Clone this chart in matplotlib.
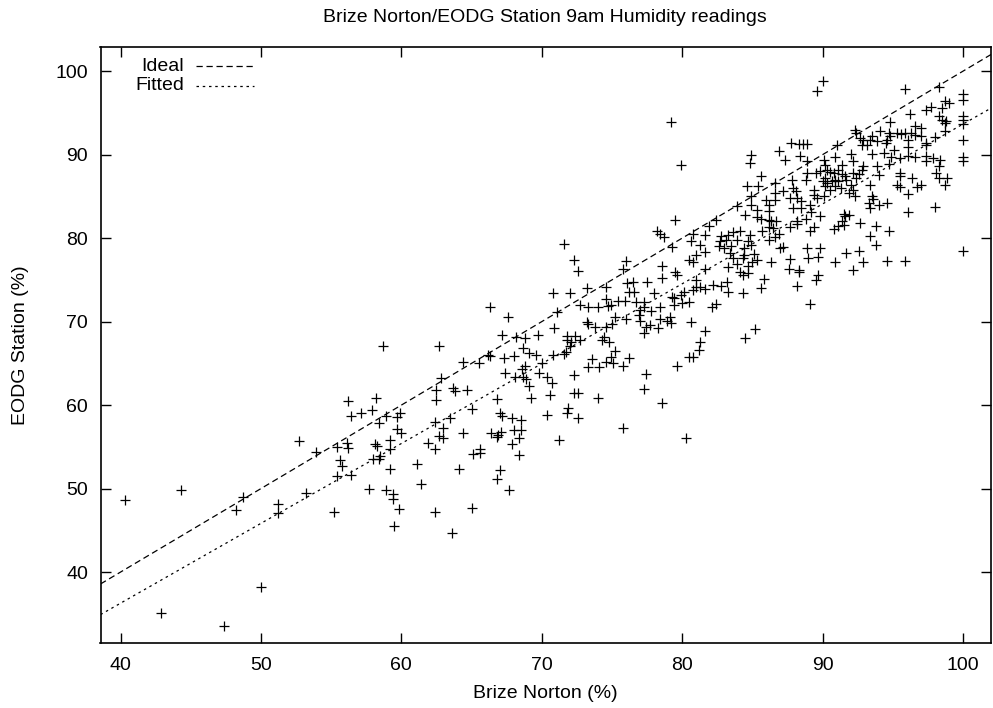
import numpy as np
import matplotlib
matplotlib.use("Agg")
import matplotlib.pyplot as plt

plt.rcParams['font.family'] = ['Liberation Sans', 'DejaVu Sans']

TITLE = "Brize Norton/EODG Station 9am Humidity readings"
XLABEL = "Brize Norton (%)"
YLABEL = "EODG Station (%)"
X_TICKS = [40, 50, 60, 70, 80, 90, 100]
Y_TICKS = [40, 50, 60, 70, 80, 90, 100]
X_LIM = (38.57, 102.0)
Y_LIM = (31.5, 102.9)
FIT_SLOPE = 0.9565
FIT_INTERCEPT = -1.99

# (Brize Norton %, EODG Station %) readings, grouped by region of the plot
low_readings = [
    (40.3, 48.6), (44.3, 49.8), (48.7, 49.0), (48.2, 47.4), (51.2, 48.2), (51.2, 47.1),
    (52.7, 55.7), (53.9, 54.4), (53.2, 49.5), (42.9, 35.1), (47.4, 33.5), (50.0, 38.2),
]

lowmid_readings = [
    (66.3, 71.7), (58.7, 67.1), (62.7, 67.1), (64.4, 65.2), (65.5, 65.1), (66.3, 65.9),
    (62.8, 63.3), (62.5, 61.8), (62.5, 60.6), (63.7, 62.0), (63.8, 61.7), (64.7, 61.8),
    (66.8, 60.7), (65.0, 59.5), (67.0, 59.0), (56.2, 60.5), (58.2, 60.8), (56.4, 58.7),
    (57.1, 59.0), (57.9, 59.4), (58.9, 58.7), (59.7, 58.6), (59.9, 59.0), (58.4, 57.8),
    (59.7, 57.1), (60.0, 56.6), (55.4, 55.0), (56.1, 55.4), (56.2, 54.9), (55.6, 53.4),
    (55.8, 52.7), (55.4, 51.5), (56.4, 51.6), (55.2, 47.2), (57.7, 50.0), (58.9, 49.8),
    (59.4, 49.4), (59.4, 48.7), (59.8, 47.5), (59.5, 45.5), (58.1, 55.3), (58.3, 55.1),
    (59.2, 55.8), (59.2, 54.7), (58.0, 53.5), (58.5, 53.9), (58.4, 53.6), (59.2, 52.3),
    (61.1, 52.9), (61.4, 50.6), (61.9, 55.5), (62.4, 54.8), (62.4, 58.0), (62.7, 56.3),
    (63.0, 56.1), (63.0, 57.2), (63.5, 58.4), (64.4, 56.7), (64.1, 52.3), (62.4, 47.2),
    (65.0, 47.7), (63.6, 44.7), (65.1, 54.2), (65.6, 54.3), (65.6, 54.7), (66.4, 56.7),
    (66.8, 56.2), (67.0, 52.2), (66.8, 51.2),
]

mid_readings = [
    (78.2, 80.8), (78.4, 80.5), (78.7, 80.1), (71.6, 79.3), (72.3, 77.4), (72.6, 76.1),
    (76.0, 77.3), (75.8, 76.3), (78.6, 76.7), (79.5, 75.9), (79.6, 75.6), (78.6, 75.2),
    (77.5, 74.8), (76.5, 74.7), (76.1, 74.6), (74.6, 74.2), (73.2, 74.0), (70.8, 73.4),
    (72.0, 73.4), (76.2, 73.5), (76.6, 73.5), (78.0, 73.4), (74.6, 72.7), (74.9, 72.0),
    (72.7, 72.0), (73.3, 71.7), (74.0, 71.8), (74.7, 71.9), (75.4, 72.5), (75.9, 72.5),
    (76.7, 72.4), (77.3, 72.4), (77.3, 71.7), (77.0, 71.4), (76.9, 70.8), (77.8, 71.3),
    (78.4, 71.7), (79.3, 73.0), (79.4, 72.0), (71.1, 71.2), (67.6, 70.6), (75.2, 70.6),
    (76.0, 70.3), (77.0, 70.1), (78.4, 70.3), (79.1, 70.6), (78.9, 70.1), (77.7, 69.6),
    (77.4, 69.4), (78.3, 69.2), (79.2, 69.8), (77.3, 68.6), (73.2, 69.9), (73.3, 69.7),
    (73.8, 69.3), (74.6, 69.3), (75.0, 69.7), (70.9, 69.2), (67.2, 68.4), (68.2, 68.2),
    (68.8, 68.0), (69.7, 68.4), (71.8, 68.3), (72.4, 68.3), (71.8, 67.8), (72.1, 67.5),
    (72.7, 67.8), (74.4, 68.2), (74.3, 67.8), (74.8, 67.5), (72.0, 67.1), (71.7, 66.4),
    (71.6, 66.1), (70.8, 66.0), (68.7, 66.8), (69.1, 66.3), (69.6, 66.0), (75.2, 66.5),
    (74.9, 65.8), (74.6, 65.2), (75.1, 65.1), (75.8, 64.7), (76.2, 65.6), (73.6, 65.5),
    (73.3, 64.6), (74.1, 64.6), (66.2, 66.0), (67.3, 65.7), (68.0, 65.9), (70.0, 65.0),
    (68.8, 64.7), (68.6, 64.3), (67.4, 63.9), (68.1, 63.4), (68.7, 63.4), (68.9, 63.1),
    (69.1, 62.3), (69.8, 63.8), (70.4, 63.4), (70.7, 62.7), (69.2, 60.9), (70.6, 61.2),
    (72.3, 63.6), (72.3, 61.4), (72.6, 61.5), (74.0, 60.9), (77.4, 63.7), (77.3, 61.9),
    (79.6, 64.7), (78.6, 60.3), (75.8, 57.3), (71.2, 55.8), (70.4, 58.8), (71.9, 59.6),
    (71.8, 59.0), (72.6, 58.5), (67.2, 58.7), (67.9, 58.4), (68.5, 58.2), (68.0, 57.0),
    (68.5, 57.0), (66.9, 56.4), (67.1, 56.8), (68.4, 56.0), (67.9, 55.3), (68.4, 54.0),
    (67.7, 49.8),
]

upmid_readings = [
    (87.75, 91.4), (88.3, 91.3), (88.9, 91.3), (84.9, 90.0), (84.8, 89.0), (86.9, 90.4),
    (87.3, 89.4), (88.4, 89.8), (79.9, 88.8), (85.6, 87.4), (84.6, 86.2), (85.4, 86.2),
    (86.6, 86.6), (86.6, 85.4), (87.2, 85.6), (87.8, 87.0), (87.9, 86.0), (88.1, 85.6),
    (88.8, 87.0), (88.9, 87.8), (89.5, 87.8), (89.8, 88.0), (89.4, 85.8), (89.4, 85.2),
    (89.6, 84.8), (86.0, 84.6), (86.6, 84.6), (87.7, 84.8), (88.2, 84.8), (88.5, 84.4),
    (84.9, 85.0), (83.9, 83.9), (84.9, 84.0), (85.3, 83.4), (86.2, 84.0), (86.2, 83.2),
    (87.9, 83.6), (88.5, 83.6), (89.1, 84.0), (89.2, 83.1), (89.8, 82.6), (84.5, 82.8),
    (85.3, 82.5), (85.6, 82.3), (86.2, 82.2), (86.3, 82.0), (86.7, 82.0), (88.8, 82.3),
    (88.2, 82.0), (88.2, 81.7), (87.7, 81.3), (86.5, 81.2), (86.9, 80.5), (86.6, 80.1),
    (86.2, 81.3), (85.7, 80.8), (86.2, 79.8), (89.4, 81.3), (89.1, 80.9), (79.5, 82.2),
    (82.4, 82.2), (81.9, 81.4), (80.8, 80.5), (81.6, 80.4), (82.8, 80.2), (83.3, 80.4),
    (83.6, 80.7), (84.1, 80.8), (84.8, 80.4), (82.7, 79.6), (83.1, 79.8), (83.9, 79.8),
    (84.7, 79.6), (82.6, 79.1), (83.0, 78.8), (83.5, 79.1), (84.4, 78.8), (84.9, 79.2),
    (79.3, 78.9), (80.6, 79.6), (81.3, 79.2), (81.6, 78.4), (83.4, 78.2), (84.4, 78.0),
    (85.1, 78.1), (81.0, 78.0), (80.5, 77.4), (80.8, 77.1), (83.3, 76.6), (83.6, 77.6),
    (84.3, 77.6), (85.0, 77.2), (85.3, 77.4), (86.3, 77.2), (87.0, 78.8), (87.2, 79.0),
    (87.7, 77.5), (88.9, 78.8), (89.0, 77.6), (89.7, 77.8), (89.8, 78.8), (81.6, 76.3),
    (84.1, 75.9), (84.3, 75.6), (84.7, 75.8), (83.9, 76.9), (84.7, 76.7), (87.6, 76.3),
    (88.3, 76.2), (88.3, 75.9), (89.7, 75.6), (89.5, 75.0), (88.2, 74.3), (85.8, 75.1),
    (85.6, 74.0), (84.3, 73.4), (83.2, 74.8), (82.8, 74.3), (83.3, 73.6), (82.2, 74.4),
    (81.0, 75.0), (81.0, 74.2), (81.3, 74.2), (80.8, 73.8), (80.1, 73.6), (81.6, 73.9),
    (79.4, 72.8), (79.9, 73.2), (80.0, 72.2), (80.5, 72.3), (82.1, 71.8), (82.4, 72.1),
    (80.6, 69.9), (81.6, 68.9), (81.3, 67.6), (81.2, 66.6), (80.5, 65.8), (80.8, 65.8),
    (85.2, 69.1), (84.5, 68.0), (89.1, 72.1), (80.3, 56.1), (89.6, 97.6), (88.6, 91.3),
    (88.9, 89.3), (79.2, 93.9),
]

high_readings = [
    (90.0, 98.8), (95.9, 97.9), (98.3, 98.1), (100.0, 97.3), (100.0, 96.6), (100.0, 94.6),
    (100.0, 94.2), (100.0, 93.7), (100.0, 91.8), (100.0, 89.7), (100.0, 89.3), (100.0, 78.5),
    (98.7, 96.4), (99.0, 96.2), (98.5, 95.6), (98.3, 94.6), (98.5, 94.2), (98.8, 94.0),
    (98.7, 93.8), (98.7, 92.8), (97.4, 95.3), (97.7, 95.7), (96.2, 94.9), (94.8, 93.9),
    (96.6, 93.4), (97.0, 93.2), (95.9, 92.6), (96.3, 92.6), (96.6, 92.4), (97.0, 92.2),
    (95.6, 92.5), (95.3, 92.6), (94.7, 92.6), (94.8, 92.2), (94.1, 92.8), (93.5, 92.2),
    (93.4, 91.8), (92.7, 92.0), (92.9, 91.7), (92.3, 92.9), (92.4, 92.6), (98.0, 92.1),
    (97.4, 91.4), (97.4, 91.2), (96.1, 91.7), (96.1, 90.9), (94.5, 91.4), (94.6, 91.8),
    (93.9, 91.6), (92.8, 91.2), (93.2, 91.2), (91.0, 91.1), (92.0, 90.1), (93.5, 90.1),
    (94.4, 90.2), (95.1, 90.6), (94.9, 89.7), (96.1, 89.9), (95.5, 89.6), (96.6, 89.7),
    (97.4, 89.8), (97.9, 89.6), (98.4, 89.4), (98.3, 88.6), (97.4, 89.2), (90.9, 89.7),
    (90.1, 89.4), (90.2, 88.8), (92.2, 89.2), (92.9, 88.6), (92.8, 88.2), (91.4, 88.8),
    (93.9, 88.6), (94.7, 88.9), (90.3, 88.2), (90.5, 87.9), (90.8, 87.8), (91.1, 88.2),
    (91.4, 87.7), (91.6, 87.4), (91.7, 87.0), (92.2, 87.8), (92.6, 87.7), (92.4, 87.2),
    (90.2, 87.2), (90.0, 86.8), (90.3, 86.6), (90.7, 86.8), (90.9, 87.0), (91.1, 86.8),
    (90.2, 86.2), (90.5, 85.8), (90.9, 86.2), (91.3, 86.0), (92.0, 86.4), (92.2, 85.8),
    (91.9, 85.4), (90.1, 85.0), (92.3, 85.0), (93.4, 86.4), (94.0, 87.6), (95.5, 87.8),
    (95.5, 87.4), (96.4, 87.2), (95.3, 86.4), (95.5, 86.1), (96.1, 85.3), (96.7, 86.1),
    (97.0, 86.4), (98.1, 87.8), (98.3, 87.2), (98.9, 87.2), (98.7, 86.4), (93.5, 85.0),
    (93.6, 84.7), (93.3, 84.2), (93.4, 83.6), (94.0, 84.0), (94.6, 84.2), (96.1, 83.1),
    (98.0, 83.7), (91.5, 82.9), (91.9, 82.8), (91.6, 82.6), (91.4, 82.0), (90.8, 81.1),
    (91.1, 81.4), (91.5, 81.6), (92.7, 81.8), (93.8, 81.5), (93.4, 80.3), (93.8, 79.2),
    (94.7, 80.8), (91.7, 78.2), (92.6, 78.5), (90.9, 77.1), (92.9, 77.1), (92.2, 76.2),
    (94.6, 77.3), (95.9, 77.3),
]

groups = [low_readings, lowmid_readings, mid_readings, upmid_readings, high_readings]
pts = np.array([p for g in groups for p in g])
brize = pts[:, 0]
eodg = pts[:, 1]

fig = plt.figure(figsize=(9.93, 7.08), dpi=100)
ax = fig.add_axes([100.5 / 993, 1 - 643 / 708, (991 - 100.5) / 993, (643 - 47) / 708])

ax.plot(brize, eodg, linestyle='none', marker='+', markersize=7, markeredgewidth=0.9,
        color='black', zorder=3)

xs = np.array(X_LIM)
ax.plot(xs, xs, color='black', linewidth=0.9, dashes=(5, 3))
ax.plot(xs, FIT_SLOPE * xs + FIT_INTERCEPT, color='black', linewidth=0.9, dashes=(2, 3))

ax.set_xlim(*X_LIM)
ax.set_ylim(*Y_LIM)
ax.set_xticks(X_TICKS)
ax.set_yticks(Y_TICKS)
ax.tick_params(direction='in', length=7, width=1, top=True, right=True,
               labelsize=14, pad=9)
ax.tick_params(axis='x', pad=10)
for s in ax.spines.values():
    s.set_linewidth(1.2)

ax.set_xlabel(XLABEL, fontsize=14, labelpad=8)
ax.set_ylabel(YLABEL, fontsize=14, labelpad=19)
fig.text(545 / 993, 1 - 18 / 708, TITLE, ha='center', va='center', fontsize=14)

# legend (gnuplot style: right-aligned label, sample line to the right)
ax.text(0.0938, 0.968, "Ideal", transform=ax.transAxes, ha='right', va='center', fontsize=14)
ax.text(0.0938, 0.9346, "Fitted", transform=ax.transAxes, ha='right', va='center', fontsize=14)
ax.plot([0.1078, 0.1725], [0.968, 0.968], transform=ax.transAxes, color='black',
        linewidth=0.9, dashes=(5, 3))
ax.plot([0.1078, 0.1725], [0.9346, 0.9346], transform=ax.transAxes, color='black',
        linewidth=0.9, dashes=(2, 3))

fig.savefig("out.png", dpi=100)
